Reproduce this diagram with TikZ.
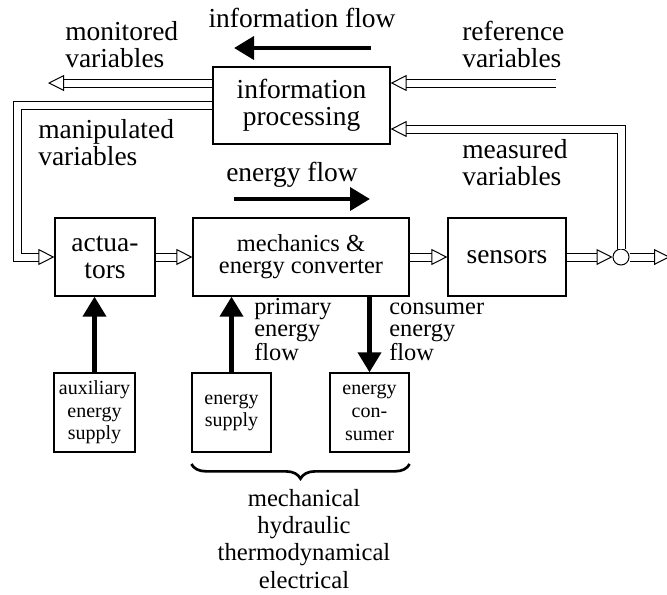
\documentclass[tikz,border=0pt]{standalone}
\usepackage{fontspec}
\setmainfont{Liberation Serif}
\usetikzlibrary{arrows.meta,decorations.pathreplacing}

\newcommand{\mainsize}{\fontsize{20.6}{20.2}\selectfont}
\newcommand{\midsize}{\fontsize{18.3}{16.5}\selectfont}
\newcommand{\smallsize}{\fontsize{15}{17}\selectfont}

\begin{document}
\begin{tikzpicture}[x=0.75pt,y=-0.75pt,
    box/.style={draw, line width=0.9pt, inner sep=0pt, align=center, font=\mainsize},
    smallbox/.style={box, font=\smallsize},
    lbl/.style={inner sep=0pt, align=left, font=\mainsize},
    dblarrow/.style={double, double distance=5.25pt, line width=0.75pt,
        -{Triangle[open, length=12pt, width=12pt, line width=0.75pt]}},
    thickarrow/.style={line width=3.5pt, -{Triangle[length=15pt, width=17pt]}}]

    \useasboundingbox (0,0) rectangle (667,594);

    % Draw the blocks
    \node[box, minimum width=132.75pt, minimum height=57.75pt] (infobox) at (301.5,105.5) {information\\processing};
    \node[box, minimum width=75pt, minimum height=58.5pt] (act) at (105,257) {actua-\\tors};
    \node[box, minimum width=162pt, minimum height=58.5pt, font=\midsize] (mech) at (301,257) {mechanics \&\\energy converter};
    \node[box, minimum width=88.5pt, minimum height=58.5pt] (sens) at (507,257) {sensors};
    \node[smallbox, minimum width=60.75pt, minimum height=59.25pt] (aux) at (94.5,412.5) {auxiliary\\energy\\supply};
    \node[smallbox, minimum width=59.25pt, minimum height=59.25pt] (supply) at (231.5,412.5) {energy\\supply};
    \node[smallbox, minimum width=59.25pt, minimum height=59.25pt] (cons) at (369.5,412.5) {energy\\con-\\sumer};
    \node[draw, circle, line width=0.75pt, fill=white, minimum size=12pt, inner sep=0pt] (sum) at (621,257) {};

    % Add labels (base = last line)
    \node[lbl, anchor=base] (infolbl) at (302,27) {information flow};
    \node[lbl, anchor=base west] (monlbl) at (65,67) {monitored\\variables};
    \node[lbl, anchor=base west] (reflbl) at (462,67) {reference\\variables};
    \node[lbl, anchor=base west] (maniplbl) at (38,165) {manipulated\\variables};
    \node[lbl, anchor=base west] (measlbl) at (462,185) {measured\\variables};
    \node[lbl, anchor=base] (energylbl) at (292,181) {energy flow};
    \node[lbl, font=\midsize, anchor=base west] (primlbl) at (254,360) {primary\\energy\\flow};
    \node[lbl, font=\midsize, anchor=base west] (conslbl) at (389,360) {consumer\\energy\\flow};
    \node[lbl, align=center, font=\fontsize{18.5}{20.5}\selectfont, anchor=base] (kindlbl) at (304,588) {mechanical\\hydraulic\\thermodynamical\\electrical};

    % Flow direction arrows
    \coordinate (if1) at (371,48);
    \coordinate (if2) at (234,48);
    \draw[thickarrow] (if1) -- (if2);
    \coordinate (ef1) at (234,199);
    \coordinate (ef2) at (370,199);
    \draw[thickarrow] (ef1) -- (ef2);

    % Information paths
    \coordinate (montip) at (48,83);
    \draw[dblarrow] (infobox.west |- montip) -- (montip);
    \coordinate (refstart) at (556,83);
    \draw[dblarrow] (refstart) -- (infobox.east |- refstart);
    \coordinate (manipcorner) at (17,105.5);
    \draw[dblarrow] (infobox.west) -- (manipcorner) |- (act.west);
    \coordinate (meascorner) at (621,129);
    \draw[dblarrow] (sum.north) -- (meascorner) -- (infobox.east |- meascorner);

    % Energy paths
    \draw[dblarrow] (act.east) -- (mech.west);
    \draw[dblarrow] (mech.east) -- (sens.west);
    \draw[dblarrow] (sens.east) -- (sum.west);
    \coordinate (out) at (670,257);
    \draw[dblarrow] (sum.east) -- (out);

    % Energy supply and consumer
    \draw[thickarrow] (aux.north) -- (aux.north |- act.south);
    \draw[thickarrow] (supply.north) -- (supply.north |- mech.south);
    \draw[thickarrow] (mech.south -| cons.north) -- (cons.north);

    % Brace under the energy boxes
    \draw[line width=2pt, decorate, decoration={brace, mirror, amplitude=11pt}]
        (supply.south west |- 0,464) -- (cons.south east |- 0,464);

\end{tikzpicture}
\end{document}
